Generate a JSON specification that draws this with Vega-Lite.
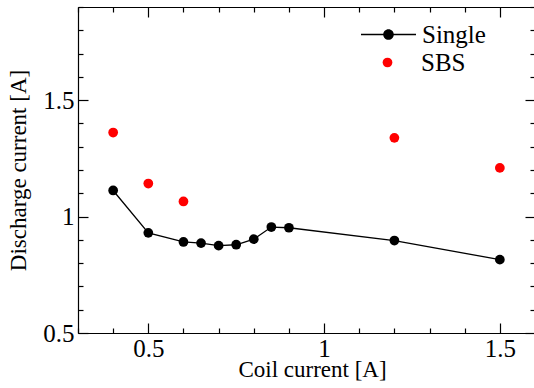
{
  "$schema": "https://vega.github.io/schema/vega-lite/v6.json",
  "width": 457,
  "height": 326,
  "autosize": {"type": "none"},
  "padding": {"left": 78, "top": 7, "right": 0, "bottom": 55},
  "background": "white",
  "config": {
    "view": {"stroke": null},
    "font": "Liberation Serif",
    "axis": {
      "grid": false,
      "domainColor": "black",
      "domainWidth": 1.2,
      "tickColor": "black",
      "tickWidth": 1.2,
      "labelColor": "black",
      "labelFont": "Liberation Serif",
      "labelFontSize": 25,
      "labelOverlap": false,
      "labelFlush": false,
      "titleFont": "Liberation Serif",
      "titleFontSize": 23,
      "titleFontWeight": "normal",
      "titleColor": "black",
      "format": "~g"
    },
    "legend": {
      "labelFont": "Liberation Serif",
      "labelFontSize": 25,
      "labelColor": "black"
    }
  },
  "datasets": {
    "single": [
      {"coil": 0.4, "discharge": 1.112},
      {"coil": 0.5, "discharge": 0.930},
      {"coil": 0.6, "discharge": 0.891},
      {"coil": 0.65, "discharge": 0.886},
      {"coil": 0.7, "discharge": 0.875},
      {"coil": 0.75, "discharge": 0.879},
      {"coil": 0.8, "discharge": 0.903},
      {"coil": 0.85, "discharge": 0.955},
      {"coil": 0.9, "discharge": 0.952},
      {"coil": 1.2, "discharge": 0.897},
      {"coil": 1.5, "discharge": 0.815}
    ],
    "sbs": [
      {"coil": 0.4, "discharge": 1.361},
      {"coil": 0.5, "discharge": 1.142},
      {"coil": 0.6, "discharge": 1.065},
      {"coil": 1.2, "discharge": 1.338},
      {"coil": 1.5, "discharge": 1.209}
    ]
  },
  "layer": [
    {
      "data": {"name": "single"},
      "mark": {"type": "line", "color": "black", "strokeWidth": 1.3},
      "encoding": {
        "x": {"field": "coil", "type": "quantitative",
          "scale": {"domain": [0.3, 1.6], "nice": false, "zero": false},
          "axis": {"orient": "bottom", "title": "Coil current [A]",
            "values": [0.5, 1, 1.5], "tickSize": -10,
            "labelPadding": 13, "titlePadding": -3, "titleX": 234}},
        "y": {"field": "discharge", "type": "quantitative",
          "scale": {"domain": [0.5, 1.9], "nice": false, "zero": false},
          "axis": {"orient": "left", "title": "Discharge current [A]",
            "values": [0.5, 1, 1.5], "tickSize": -10,
            "labelPadding": 14, "titlePadding": 12}}
      }
    },
    {
      "data": {"name": "single"},
      "mark": {"type": "circle", "size": 95, "opacity": 1},
      "encoding": {
        "x": {"field": "coil", "type": "quantitative",
          "axis": {"orient": "bottom", "title": null, "labels": false, "domain": false,
            "values": [0.3,0.4,0.6,0.7,0.8,0.9,1.1,1.2,1.3,1.4,1.6], "tickSize": -5}},
        "y": {"field": "discharge", "type": "quantitative",
          "axis": {"orient": "left", "title": null, "labels": false, "domain": false,
            "values": [0.6,0.7,0.8,0.9,1.1,1.2,1.3,1.4,1.6,1.7,1.8,1.9], "tickSize": -5}},
        "color": {"datum": "Single", "type": "nominal",
          "scale": {"domain": ["Single"], "range": ["black"]},
          "legend": {
            "title": null,
            "orient": "none",
            "legendX": 298,
            "legendY": 15,
            "padding": 0,
            "symbolType": "M-2.75,-0.065L2.75,-0.065L2.75,0.065L-2.75,0.065ZM0.53,0A0.53,0.53,0,1,1,-0.53,0A0.53,0.53,0,1,1,0.53,0Z",
            "symbolSize": 400,
            "symbolStrokeWidth": 0,
            "symbolOpacity": 1,
            "labelOffset": 21
          }
        }
      }
    },
    {
      "data": {"name": "sbs"},
      "mark": {"type": "point", "filled": true, "color": "red", "size": 95, "opacity": 1},
      "encoding": {
        "x": {"field": "coil", "type": "quantitative",
          "axis": {"orient": "top", "title": null, "labels": false,
            "values": [0.5, 1, 1.5], "tickSize": -10}},
        "y": {"field": "discharge", "type": "quantitative",
          "axis": {"orient": "right", "title": null, "labels": false,
            "values": [0.5, 1, 1.5], "tickSize": -10}},
        "shape": {"datum": "SBS", "type": "nominal",
          "scale": {"domain": ["SBS"], "range": ["circle"]},
          "legend": {
            "title": null,
            "orient": "none",
            "legendX": 297,
            "legendY": 43,
            "padding": 0,
            "symbolSize": 95,
            "symbolFillColor": "red",
            "symbolStrokeWidth": 0,
            "symbolOpacity": 1,
            "labelOffset": 21
          }
        }
      }
    },
    {
      "data": {"name": "sbs"},
      "mark": {"type": "circle", "size": 90, "opacity": 0},
      "encoding": {
        "x": {"field": "coil", "type": "quantitative",
          "axis": {"orient": "top", "title": null, "labels": false, "domain": false,
            "values": [0.3,0.4,0.6,0.7,0.8,0.9,1.1,1.2,1.3,1.4,1.6], "tickSize": -5}},
        "y": {"field": "discharge", "type": "quantitative",
          "axis": {"orient": "right", "title": null, "labels": false, "domain": false,
            "values": [0.6,0.7,0.8,0.9,1.1,1.2,1.3,1.4,1.6,1.7,1.8,1.9], "tickSize": -5}}
      }
    }
  ],
  "resolve": {"axis": {"x": "independent", "y": "independent"}}
}
